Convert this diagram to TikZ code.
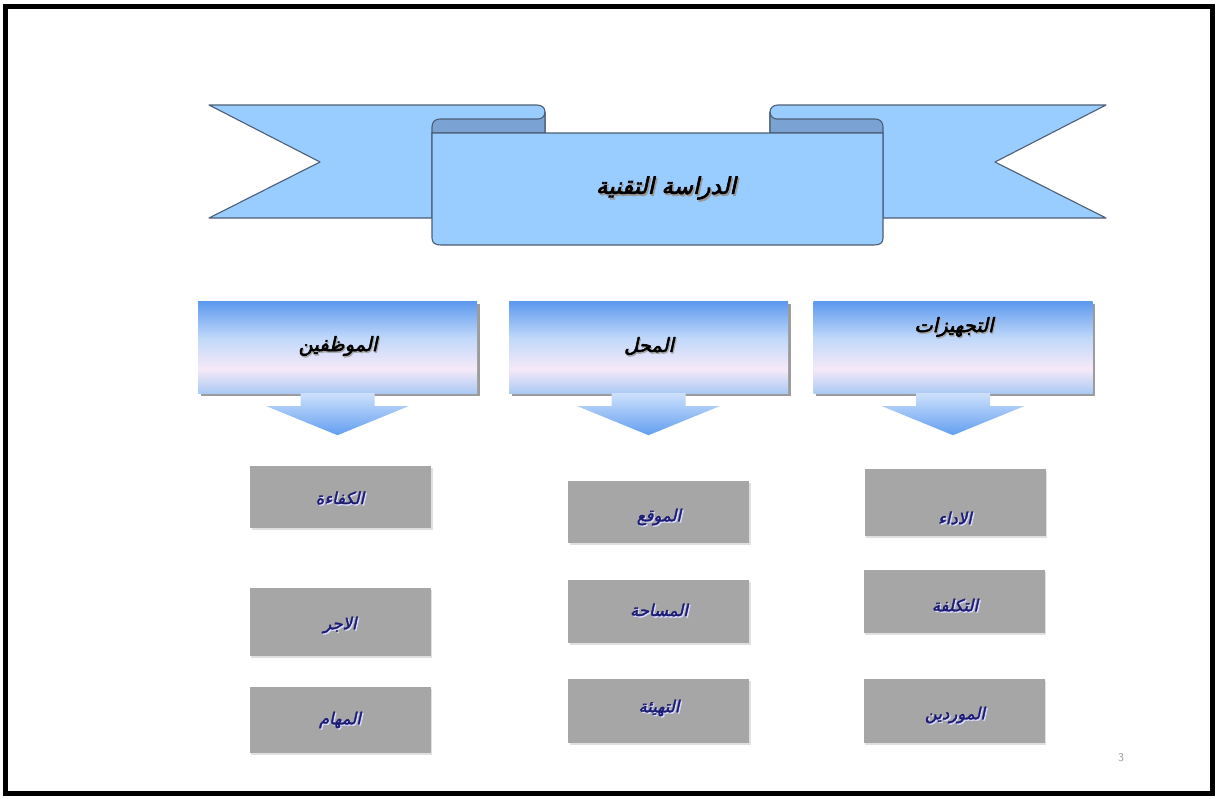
\documentclass[tikz,border=0pt]{standalone}
\usepackage{fontspec}
\usetikzlibrary{calc,shadows}
\TeXXeTstate=1
\newfontfamily\arabicfont[Script=Arabic,FakeSlant=0.22,FakeBold=2.6]{DejaVu Sans}
\newfontfamily\arabiclight[Script=Arabic,FakeSlant=0.22,FakeBold=2.0]{DejaVu Sans}
\definecolor{ribfill}{RGB}{153,204,255}
\definecolor{ribdark}{RGB}{122,163,212}
\definecolor{ribline}{RGB}{78,94,118}
\definecolor{htop}{RGB}{92,152,238}
\definecolor{hmid}{RGB}{192,216,250}
\definecolor{hpink}{RGB}{246,233,248}
\definecolor{hbot}{RGB}{172,202,245}
\definecolor{atop}{RGB}{205,224,252}
\definecolor{abot}{RGB}{98,158,240}
\definecolor{boxgray}{RGB}{166,166,166}
\definecolor{navy}{RGB}{28,28,115}
\pgfdeclareverticalshading{hdrshade}{100bp}{color(0bp)=(hbot); color(25bp)=(hbot); color(38bp)=(hpink); color(55bp)=(hmid); color(75bp)=(htop); color(100bp)=(htop)}
\pgfdeclareverticalshading{arrshade}{100bp}{color(0bp)=(abot); color(25bp)=(abot); color(75bp)=(atop); color(100bp)=(atop)}
\tikzset{
  rib/.style={fill=ribfill, draw=ribline, line width=1.1pt, line join=round},
  ribd/.style={fill=ribdark, draw=ribline, line width=1.1pt, line join=round},
  hdrbox/.style={shading=hdrshade, minimum width=279pt, minimum height=92pt, inner sep=0pt,
     drop shadow={shadow xshift=2.5pt, shadow yshift=-2.5pt, fill=black!55, opacity=0.7}},
  arrowshape/.style={shading=arrshade},
  graybox/.style={fill=boxgray, minimum width=181pt, inner sep=0pt,
     drop shadow={shadow xshift=1.5pt, shadow yshift=-1.5pt, fill=black!20, opacity=0.6}},
  titletext/.style={font=\fontsize{23}{26}\arabicfont, text=black, inner sep=0pt},
  titleshadow/.style={font=\fontsize{23}{26}\arabicfont, text=black!40, inner sep=0pt},
  hdrtext/.style={font=\fontsize{19.5}{22}\arabicfont, text=black, inner sep=0pt},
  hdrshadow/.style={font=\fontsize{19.5}{22}\arabicfont, text=black!35, inner sep=0pt},
  lbltext/.style={font=\fontsize{16.5}{19}\arabiclight, text=navy, inner sep=0pt},
  lblshadow/.style={font=\fontsize{16.5}{19}\arabiclight, text=white!85!blue, inner sep=0pt},
}
\newcommand\graylabel[3]{%
  \node[lblshadow] (#1s) at ($(#2)+(1.3,1.3)$) {\beginR #3\endR};
  \node[lbltext] (#1) at (#2) {\beginR #3\endR};}
\begin{document}
\begin{tikzpicture}[x=1pt,y=-1pt]
\useasboundingbox (0,0) rectangle (1217,798);
\fill[white] (0,0) rectangle (1217,798);
% frame
\draw[line width=5pt] (5.5,6.5) rectangle (1212.5,793);

% ---------- ribbon ----------
% left back band
\path[rib] (209,105) -- (537,105) .. controls (542,105) and (545,108) .. (545,112)
  -- (545,133) -- (432,133) -- (432,218) -- (209,218) -- (320,162) -- cycle;
% right back band
\path[rib] (1106,105) -- (778,105) .. controls (773,105) and (770,108) .. (770,112)
  -- (770,133) -- (883,133) -- (883,218) -- (1106,218) -- (995,162) -- cycle;
% inner (dark) parts of the rolls
\path[ribd] (432,133) -- (432,127) .. controls (432,122) and (435,119) .. (440,119)
  -- (538,119) .. controls (542,119) and (545,116) .. (545,112) -- (545,133) -- cycle;
\path[ribd] (883,133) -- (883,127) .. controls (883,122) and (880,119) .. (875,119)
  -- (777,119) .. controls (773,119) and (770,116) .. (770,112) -- (770,133) -- cycle;
% front panel
\path[rib] (432,133) -- (432,238) .. controls (432,243) and (435,245) .. (441,245)
  -- (874,245) .. controls (880,245) and (883,243) .. (883,238) -- (883,133) -- cycle;
\node[titleshadow] (titleS) at (667.5,190) {\beginR الدراسة التقنية\endR};
\node[titletext] (title) at (666,188) {\beginR الدراسة التقنية\endR};

% ---------- headers ----------
\node[hdrbox] (h1) at (337.5,347) {};
\node[hdrbox] (h2) at (648.5,347) {};
\node[hdrbox] (h3) at (953,347) {};
\foreach \h in {h1,h2,h3}{
  \path[arrowshape] ($(\h.south)+(-37,0)$) -- ++(0,13) -- ($(\h.south)+(-71,13)$)
     -- ($(\h.south)+(0,42)$) -- ($(\h.south)+(71,13)$) -- ($(\h.south)+(37,13)$)
     -- ($(\h.south)+(37,0)$) -- cycle;
}
\node[hdrshadow] (h1tS) at (339,347.5) {\beginR الموظفين\endR};
\node[hdrtext] (h1t) at (338,346) {\beginR الموظفين\endR};
\node[hdrshadow] (h2tS) at (650,347.5) {\beginR المحل\endR};
\node[hdrtext] (h2t) at (649,346) {\beginR المحل\endR};
\node[hdrshadow] (h3tS) at (955,328.5) {\beginR التجهيزات\endR};
\node[hdrtext] (h3t) at (954,327) {\beginR التجهيزات\endR};

% ---------- gray boxes ----------
\node[graybox, minimum height=62pt] (a1) at (340.5,497) {};
\node[graybox, minimum height=68pt] (a2) at (340,622) {};
\node[graybox, minimum height=66pt] (a3) at (340,720) {};
\node[graybox, minimum height=62pt] (b1) at (658.5,512) {};
\node[graybox, minimum height=63pt] (b2) at (658.5,611.5) {};
\node[graybox, minimum height=64pt] (b3) at (658.5,711) {};
\node[graybox, minimum height=67pt] (c1) at (955,502.5) {};
\node[graybox, minimum height=63pt] (c2) at (954,601.5) {};
\node[graybox, minimum height=64pt] (c3) at (954,711) {};

\coordinate (pa1) at (340,498);
\coordinate (pa2) at (340,625);
\coordinate (pa3) at (340,720);
\coordinate (pb1) at (659,517);
\coordinate (pb2) at (659,610);
\coordinate (pb3) at (659,708);
\coordinate (pc1) at (955,518);
\coordinate (pc2) at (955,605);
\coordinate (pc3) at (955,715);
\graylabel{la1}{pa1}{الكفاءة}
\graylabel{la2}{pa2}{الاجر}
\graylabel{la3}{pa3}{المهام}
\graylabel{lb1}{pb1}{الموقع}
\graylabel{lb2}{pb2}{المساحة}
\graylabel{lb3}{pb3}{التهيئة}
\graylabel{lc1}{pc1}{الاداء}
\graylabel{lc2}{pc2}{التكلفة}
\graylabel{lc3}{pc3}{الموردين}

% page number
\node[font=\fontsize{12}{13}\sffamily, text=black!40, inner sep=0pt] (pg) at (1121,758) {3};
\end{tikzpicture}
\end{document}
